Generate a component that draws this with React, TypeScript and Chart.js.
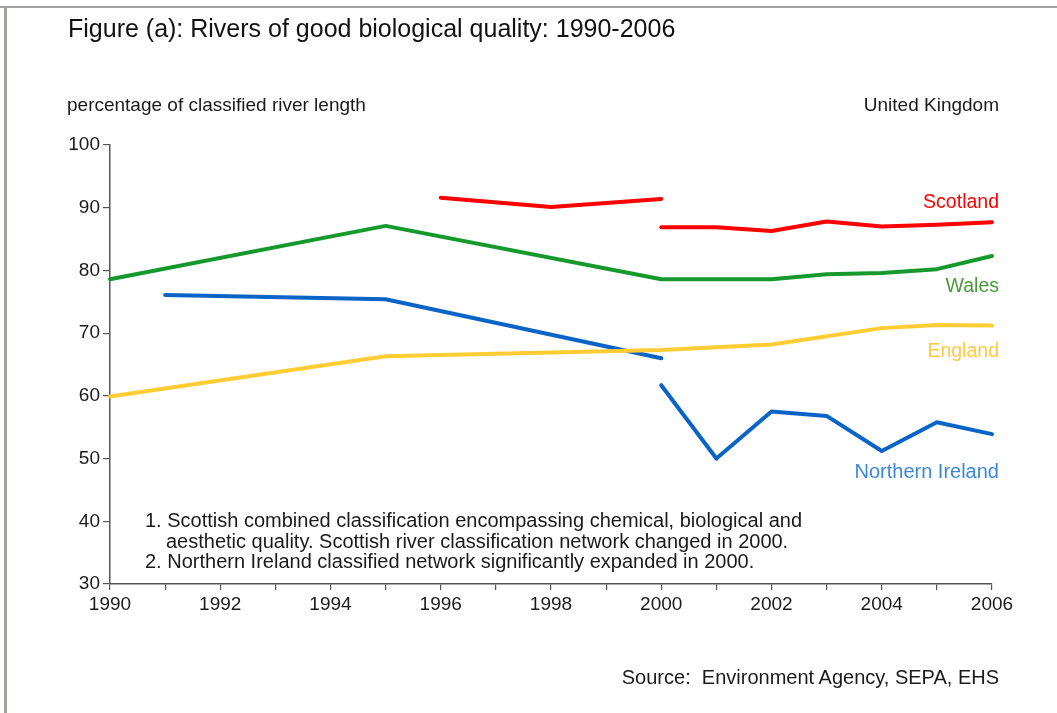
import React, { useEffect, useRef } from "react";
import { Chart, registerables } from "chart.js";

Chart.register(...registerables);

const scotlandYearsA = [1996, 1998, 2000];
const scotlandA = [91.6, 90.1, 91.4];
const scotlandYearsB = [2000, 2001, 2002, 2003, 2004, 2005, 2006];
const scotlandB = [86.9, 86.9, 86.3, 87.8, 87.0, 87.3, 87.7];

const walesYears = [1990, 1995, 2000, 2002, 2003, 2004, 2005, 2006];
const wales = [78.6, 87.1, 78.6, 78.6, 79.4, 79.6, 80.2, 82.3];

const englandYears = [1990, 1995, 2000, 2002, 2004, 2005, 2006];
const england = [59.9, 66.3, 67.3, 68.2, 70.8, 71.3, 71.2];

const niYearsA = [1991, 1995, 2000];
const niA = [76.1, 75.4, 66.0];
const niYearsB = [2000, 2001, 2002, 2003, 2004, 2005, 2006];
const niB = [61.7, 50.0, 57.5, 56.8, 51.2, 55.8, 53.9];

const yTicks = [30, 40, 50, 60, 70, 80, 90, 100];
const xMin = 1990;
const xMax = 2006;

const RED = "#ff0000";
const GREEN = "#16992c";
const YELLOW = "#ffcc33";
const BLUE = "#0a64c8";

const pts = (xs: number[], ys: number[]) => xs.map((x, i) => ({ x, y: ys[i] }));

const FONT = "'Liberation Sans', Arial, Helvetica, sans-serif";

export default function App() {
  const ref = useRef<HTMLCanvasElement | null>(null);

  useEffect(() => {
    if (!ref.current) return;
    const ds = (data: any[], color: string) => ({
      data,
      borderColor: color,
      backgroundColor: color,
      borderWidth: 4,
      pointRadius: 0,
      tension: 0,
      clip: false as any,
      borderCapStyle: "round" as const,
      borderJoinStyle: "round" as const,
    });
    const chart = new Chart(ref.current, {
      type: "line",
      data: {
        datasets: [
          ds(pts(englandYears, england), YELLOW),
          ds(pts(walesYears, wales), GREEN),
          ds(pts(niYearsA, niA), BLUE),
          ds(pts(niYearsB, niB), BLUE),
          ds(pts(scotlandYearsA, scotlandA), RED),
          ds(pts(scotlandYearsB, scotlandB), RED),
        ],
      },
      options: {
        animation: false,
        responsive: false,
        maintainAspectRatio: false,
        layout: { padding: { left: 0, right: 65, top: 145, bottom: 100 } },
        plugins: { legend: { display: false }, tooltip: { enabled: false }, title: { display: false } },
        scales: {
          x: {
            type: "linear",
            min: xMin,
            max: xMax,
            afterFit: (s: any) => {
              s.height = 29;
            },
            ticks: {
              stepSize: 1,
              autoSkip: false,
              maxRotation: 0,
              padding: 3,
              color: "#1a1a1a",
              font: { family: FONT, size: 19 },
              callback: (v: any) => (Number(v) % 2 === 0 ? String(v) : ""),
            },
            grid: { drawOnChartArea: false, drawTicks: true, tickLength: 6, color: "#555", lineWidth: 1.2 },
            border: { display: true, color: "#555", width: 1.5 },
          },
          y: {
            min: 30,
            max: 100,
            afterFit: (s: any) => {
              s.width = 110;
            },
            afterBuildTicks: (s: any) => {
              s.ticks = yTicks.map((v) => ({ value: v }));
            },
            ticks: {
              padding: 3,
              color: "#1a1a1a",
              font: { family: FONT, size: 19 },
            },
            grid: { drawOnChartArea: false, drawTicks: true, tickLength: 7, color: "#555", lineWidth: 1.2 },
            border: { display: true, color: "#555", width: 1.5 },
          },
        },
      },
    });
    return () => chart.destroy();
  }, []);

  const txt = (s: React.CSSProperties): React.CSSProperties => ({
    position: "absolute",
    fontFamily: FONT,
    lineHeight: 1,
    whiteSpace: "nowrap",
    color: "#1a1a1a",
    ...s,
  });

  return (
    <div style={{ position: "absolute", left: 0, top: 0, width: 1057, height: 713, background: "#fff", overflow: "hidden" }}>
      <div style={{ position: "absolute", left: 0, top: 6, width: 1057, height: 2, background: "#a0a0a0" }} />
      <div style={{ position: "absolute", left: 4, top: 6, width: 3, height: 707, background: "#a3a39b" }} />
      <canvas ref={ref} width={1057} height={713} style={{ position: "absolute", left: 0, top: 0, width: 1057, height: 713 }} />
      <div style={txt({ left: 68, top: 16, fontSize: 25, color: "#111" })}>Figure (a): Rivers of good biological quality: 1990-2006</div>
      <div style={txt({ left: 67, top: 95, fontSize: 19 })}>percentage of classified river length</div>
      <div style={txt({ right: 58, top: 95, fontSize: 19 })}>United Kingdom</div>
      <div style={txt({ right: 58, top: 192, fontSize: 19.5, color: RED })}>Scotland</div>
      <div style={txt({ right: 58, top: 276, fontSize: 19.5, color: "#4a9a3a" })}>Wales</div>
      <div style={txt({ right: 58, top: 341, fontSize: 19.5, color: "#ffc940" })}>England</div>
      <div style={txt({ right: 58, top: 460.5, fontSize: 20, color: "#3a88d8" })}>Northern Ireland</div>
      <div style={txt({ left: 145, top: 510, fontSize: 20 })}>1. Scottish combined classification encompassing chemical, biological and</div>
      <div style={txt({ left: 166, top: 530.5, fontSize: 20 })}>aesthetic quality. Scottish river classification network changed in 2000.</div>
      <div style={txt({ left: 145, top: 551, fontSize: 20 })}>2. Northern Ireland classified network significantly expanded in 2000.</div>
      <div style={txt({ right: 58, top: 667, fontSize: 20 })}>Source:&nbsp; Environment Agency, SEPA, EHS</div>
    </div>
  );
}
